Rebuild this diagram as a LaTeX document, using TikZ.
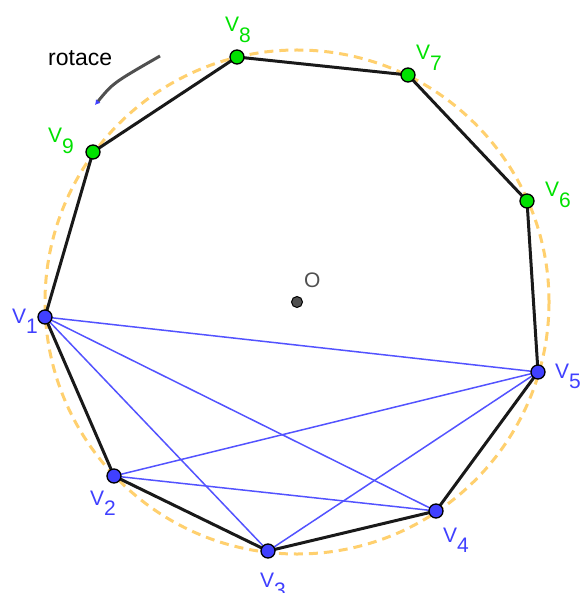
\documentclass[tikz,border=0pt]{standalone}
\usepackage{fontspec}
\setmainfont{Liberation Sans}
\usetikzlibrary{arrows.meta,backgrounds}
\definecolor{vgreen}{RGB}{0,225,0}
\definecolor{vblue}{RGB}{64,64,255}
\definecolor{ring}{RGB}{255,208,110}
\definecolor{darkpt}{RGB}{80,80,80}
\tikzset{
  pt/.style={circle, draw=black, line width=1.3pt, minimum size=14pt, inner sep=0pt},
  edge/.style={line width=3pt, black!90, line join=round},
  diag/.style={line width=1.5pt, vblue!90},
  vlab/.style={font=\fontsize{21}{21}\selectfont, inner sep=0pt, anchor=base west},
}
\newcommand{\vname}[1]{V\raisebox{-0.5em}{#1}}
\begin{document}
\begin{tikzpicture}[x=1pt, y=-1pt]
  \useasboundingbox (0,0) rectangle (579,593);
  % centre
  \node[circle, draw=black, fill=darkpt, line width=1pt, minimum size=11pt, inner sep=0pt] (o) at (297,302) {};
  \node[vlab, text=darkpt] (olab) at (304,287) {O};
  % blue vertices
  \node[pt, fill=vblue] (v1) at (45,317) {};
  \node[pt, fill=vblue] (v2) at (114,476) {};
  \node[pt, fill=vblue] (v3) at (268,551) {};
  \node[pt, fill=vblue] (v4) at (436,511) {};
  \node[pt, fill=vblue] (v5) at (538,372) {};
  % green vertices
  \node[pt, fill=vgreen] (v6) at (527,201) {};
  \node[pt, fill=vgreen] (v7) at (408,75) {};
  \node[pt, fill=vgreen] (v8) at (237,57) {};
  \node[pt, fill=vgreen] (v9) at (93,152) {};
  % labels
  \node[vlab, text=vblue] (l1) at (12,323) {\vname{1}};
  \node[vlab, text=vblue] (l2) at (90,505) {\vname{2}};
  \node[vlab, text=vblue] (l3) at (260,587) {\vname{3}};
  \node[vlab, text=vblue] (l4) at (443,542) {\vname{4}};
  \node[vlab, text=vblue] (l5) at (555,378) {\vname{5}};
  \node[vlab, text=vgreen] (l6) at (545,197) {\vname{6}};
  \node[vlab, text=vgreen] (l7) at (416,60) {\vname{7}};
  \node[vlab, text=vgreen] (l8) at (225,32) {\vname{8}};
  \node[vlab, text=vgreen] (l9) at (48,143) {\vname{9}};
  % rotation hint
  \node[vlab, font=\fontsize{23}{23}\selectfont] (rot) at (48,66) {rotace};
  \coordinate (r1) at (160,56);
  \coordinate (r2) at (95,105);
  \draw[line width=3pt, darkpt, -{Latex[length=5pt,width=6pt,color=vblue]}]
    (r1) .. controls (113,83) .. (r2);
  \begin{scope}[on background layer]
    % circumcircle
    \draw[ring, line width=3pt, dash pattern=on 9pt off 6pt] (o.center) circle (252);
    % diagonals of the blue pentagon
    \foreach \a/\b in {1/3,1/4,1/5,2/4,2/5,3/5}
      \draw[diag] (v\a.center) -- (v\b.center);
    % nonagon
    \draw[edge] (v1.center) -- (v2.center) -- (v3.center) -- (v4.center) -- (v5.center)
      -- (v6.center) -- (v7.center) -- (v8.center) -- (v9.center) -- cycle;
  \end{scope}
\end{tikzpicture}
\end{document}
